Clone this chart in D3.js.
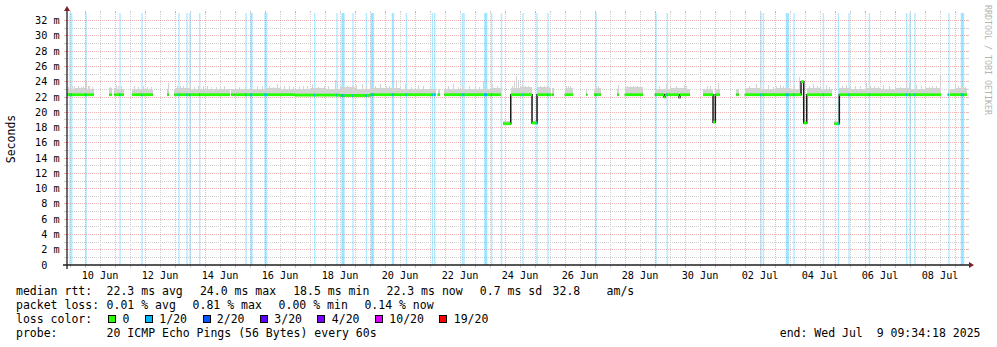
<!DOCTYPE html>
<html><head><meta charset="utf-8">
<script src="https://cdn.jsdelivr.net/npm/d3@7/dist/d3.min.js"></script>
<style>
body{margin:0;background:#fff}
svg{display:block}
text{font-family:"DejaVu Sans Mono",monospace;white-space:pre}
</style></head><body>
<svg id="chart" width="997" height="347"></svg>
<script>
// ---------------- DATA ----------------
const START = "2025-06-09 09:34:18";
const END = "2025-07-09 09:34:18";
const yTickValues = [0,2,4,6,8,10,12,14,16,18,20,22,24,26,28,30,32];
const yUnit = "m";
const xTickLabels = ["10 Jun","12 Jun","14 Jun","16 Jun","18 Jun","20 Jun","22 Jun","24 Jun","26 Jun","28 Jun","30 Jun","02 Jul","04 Jul","06 Jul","08 Jul"];

// median rtt runs: [start, end, median ms]
const medianRuns = [
  ["2025-06-09 09:34","2025-06-10 07:00",22.3],
  ["2025-06-10 19:30","2025-06-10 21:36",22.3],
  ["2025-06-10 23:26","2025-06-11 07:00",22.3],
  ["2025-06-11 13:36","2025-06-12 06:10",22.3],
  ["2025-06-12 17:36","2025-06-12 19:00",22.3],
  ["2025-06-12 23:26","2025-06-14 19:45",22.3],
  ["2025-06-14 21:02","2025-06-14 22:58",22.3],
  ["2025-06-14 23:26","2025-06-17 00:00",22.3],
  ["2025-06-17 00:00","2025-06-18 12:00",22.25],
  ["2025-06-18 12:00","2025-06-19 12:00",22.2],
  ["2025-06-19 12:00","2025-06-21 16:34",22.3],
  ["2025-06-21 18:10","2025-06-21 20:00",22.3],
  ["2025-06-21 23:26","2025-06-23 20:34",22.3],
  ["2025-06-23 22:38","2025-06-24 04:34",18.5],
  ["2025-06-24 04:34","2025-06-24 21:36",22.3],
  ["2025-06-24 21:36","2025-06-25 01:36",18.6],
  ["2025-06-25 01:36","2025-06-25 13:02",22.3],
  ["2025-06-25 13:50","2025-06-25 14:58",22.3],
  ["2025-06-25 23:46","2025-06-26 06:24",22.3],
  ["2025-06-26 17:02","2025-06-26 17:50",22.3],
  ["2025-06-26 23:12","2025-06-27 04:34",22.3],
  ["2025-06-27 17:36","2025-06-27 18:58",22.3],
  ["2025-06-27 23:46","2025-06-28 14:24",22.3],
  ["2025-06-28 23:46","2025-06-29 07:12",22.3],
  ["2025-06-29 07:12","2025-06-29 08:00",22.0],
  ["2025-06-29 08:00","2025-06-29 19:12",22.3],
  ["2025-06-29 19:12","2025-06-29 20:00",21.95],
  ["2025-06-29 20:00","2025-06-30 03:46",22.3],
  ["2025-06-30 14:24","2025-06-30 22:24",22.3],
  ["2025-06-30 22:24","2025-07-01 00:14",18.7],
  ["2025-07-01 00:14","2025-07-01 03:46",22.3],
  ["2025-07-01 17:02","2025-07-01 18:58",22.3],
  ["2025-07-01 23:46","2025-07-03 20:48",22.3],
  ["2025-07-03 20:48","2025-07-03 22:58",24.0],
  ["2025-07-03 22:58","2025-07-04 01:22",18.6],
  ["2025-07-04 01:22","2025-07-04 21:36",22.3],
  ["2025-07-04 23:26","2025-07-05 03:26",18.5],
  ["2025-07-05 03:26","2025-07-08 12:48",22.3],
  ["2025-07-08 18:10","2025-07-08 18:58",22.3],
  ["2025-07-08 20:00","2025-07-09 09:34",22.3]
];

// upper edge of the smoke band (step values): [from time, top ms]
const smokeSteps = [
  ["2025-06-09 09:34",23.1],["2025-06-09 16:00",23.2],["2025-06-10 00:00",23.0],["2025-06-10 12:00",23.2],
  ["2025-06-11 00:00",23.1],["2025-06-11 12:00",23.0],["2025-06-12 00:00",23.1],["2025-06-12 12:00",23.0],
  ["2025-06-13 00:00",23.2],["2025-06-13 12:00",23.1],["2025-06-14 00:00",23.0],["2025-06-14 12:00",23.1],
  ["2025-06-15 00:00",23.1],["2025-06-15 12:00",23.0],["2025-06-16 00:00",23.2],["2025-06-16 12:00",23.1],
  ["2025-06-17 00:00",23.0],["2025-06-17 12:00",23.2],["2025-06-18 00:00",23.1],["2025-06-18 12:00",23.3],
  ["2025-06-19 00:00",23.1],["2025-06-19 12:00",23.2],["2025-06-20 00:00",23.2],["2025-06-20 12:00",23.1],
  ["2025-06-21 00:00",23.0],["2025-06-21 12:00",23.1],["2025-06-22 00:00",23.0],["2025-06-22 12:00",23.1],
  ["2025-06-23 00:00",23.1],["2025-06-23 12:00",23.2],["2025-06-23 22:00",18.8],["2025-06-24 04:34",23.2],
  ["2025-06-24 12:00",23.3],["2025-06-24 21:36",18.9],["2025-06-25 01:36",23.3],["2025-06-25 12:00",23.2],
  ["2025-06-26 00:00",23.2],["2025-06-26 12:00",23.1],["2025-06-27 00:00",23.2],["2025-06-27 12:00",23.1],
  ["2025-06-28 00:00",23.3],["2025-06-28 12:00",23.3],["2025-06-29 00:00",23.1],["2025-06-29 12:00",23.2],
  ["2025-06-30 00:00",23.0],["2025-06-30 12:00",23.1],["2025-06-30 22:24",18.9],["2025-07-01 00:14",23.1],
  ["2025-07-01 12:00",23.0],["2025-07-02 00:00",23.2],["2025-07-02 12:00",23.1],["2025-07-03 00:00",23.2],
  ["2025-07-03 12:00",23.1],["2025-07-03 22:58",18.9],["2025-07-04 01:22",23.2],["2025-07-04 12:00",23.1],
  ["2025-07-04 23:00",18.8],["2025-07-05 03:26",23.2],["2025-07-05 12:00",23.1],["2025-07-06 00:00",23.2],
  ["2025-07-06 12:00",23.1],["2025-07-07 00:00",23.2],["2025-07-07 12:00",23.1],["2025-07-08 00:00",23.2],
  ["2025-07-08 12:00",23.1],["2025-07-09 00:00",23.2]
];

// single-sample smoke peaks: [time, top ms]
const smokeSpikes = [
  ["2025-06-09 10:24",23.3],["2025-06-09 13:36",23.5],["2025-06-09 15:12",23.4],["2025-06-09 18:24",23.4],
  ["2025-06-09 20:48",23.3],["2025-06-09 22:24",23.5],["2025-06-10 00:48",23.9],["2025-06-10 02:24",23.4],
  ["2025-06-10 03:12",23.5],["2025-06-10 05:36",23.3],["2025-06-10 20:00",23.3],["2025-06-11 00:48",23.6],
  ["2025-06-11 02:24",23.4],["2025-06-11 04:48",23.4],["2025-06-11 15:12",23.4],["2025-06-11 18:24",23.3],
  ["2025-06-11 22:24",23.4],["2025-06-12 01:36",23.3],["2025-06-12 04:48",23.3],["2025-06-12 18:24",23.8],
  ["2025-06-13 01:36",23.5],["2025-06-13 04:00",23.4],["2025-06-13 06:24",23.4],["2025-06-13 12:00",23.7],
  ["2025-06-13 15:12",23.3],["2025-06-13 18:24",23.5],["2025-06-13 22:24",23.4],["2025-06-14 01:36",23.5],
  ["2025-06-14 04:48",23.3],["2025-06-14 08:48",23.3],["2025-06-14 12:00",23.4],["2025-06-14 15:12",23.4],
  ["2025-06-15 03:12",23.3],["2025-06-15 08:00",23.3],["2025-06-15 12:48",23.4],["2025-06-15 17:36",23.4],
  ["2025-06-15 21:36",23.5],["2025-06-16 03:12",23.5],["2025-06-16 06:24",23.3],["2025-06-16 09:36",23.7],
  ["2025-06-16 12:00",23.5],["2025-06-16 15:12",23.4],["2025-06-16 19:12",23.5],["2025-06-16 22:24",23.3],
  ["2025-06-17 03:12",23.3],["2025-06-17 06:24",23.4],["2025-06-17 09:36",23.5],["2025-06-17 13:36",23.7],
  ["2025-06-17 18:24",23.3],["2025-06-17 23:12",23.4],["2025-06-18 02:24",23.4],["2025-06-18 08:00",24.2],
  ["2025-06-18 09:36",24.0],["2025-06-18 14:24",23.7],["2025-06-18 17:36",23.4],["2025-06-18 21:36",23.5],
  ["2025-06-19 00:48",23.6],["2025-06-19 05:36",23.7],["2025-06-19 08:48",23.4],["2025-06-19 12:00",24.1],
  ["2025-06-19 16:00",23.4],["2025-06-19 20:00",23.7],["2025-06-20 00:48",23.4],["2025-06-20 03:12",23.5],
  ["2025-06-20 06:24",24.4],["2025-06-20 08:48",24.2],["2025-06-20 12:00",23.4],["2025-06-20 16:00",23.7],
  ["2025-06-20 20:48",23.3],["2025-06-21 02:24",23.6],["2025-06-21 06:24",23.4],["2025-06-21 12:00",23.5],
  ["2025-06-22 02:24",23.4],["2025-06-22 06:24",23.7],["2025-06-22 10:24",23.3],["2025-06-22 13:36",23.5],
  ["2025-06-22 19:12",23.5],["2025-06-23 00:00",23.4],["2025-06-23 03:12",23.3],["2025-06-23 06:24",24.1],
  ["2025-06-23 13:36",23.7],["2025-06-23 17:36",23.4],["2025-06-24 05:36",23.5],["2025-06-24 07:12",24.0],
  ["2025-06-24 08:48",24.8],["2025-06-24 10:24",24.2],["2025-06-24 13:36",23.6],["2025-06-24 16:00",23.5],
  ["2025-06-24 18:24",23.4],["2025-06-25 04:00",23.4],["2025-06-25 07:12",23.5],["2025-06-25 09:36",23.6],
  ["2025-06-26 00:48",23.5],["2025-06-26 02:24",23.4],["2025-06-26 04:00",23.4],["2025-06-27 00:48",23.3],
  ["2025-06-27 02:24",23.5],["2025-06-27 18:24",23.6],["2025-06-28 01:36",23.4],["2025-06-28 04:00",23.5],
  ["2025-06-28 06:24",23.5],["2025-06-28 09:36",23.5],["2025-06-28 12:00",23.4],["2025-06-29 03:12",23.4],
  ["2025-06-29 08:48",23.7],["2025-06-29 12:00",23.3],["2025-06-29 16:48",23.5],["2025-06-29 23:12",23.6],
  ["2025-06-30 00:48",23.4],["2025-06-30 17:36",23.4],["2025-06-30 20:00",23.5],["2025-07-01 02:24",23.8],
  ["2025-07-02 03:12",23.4],["2025-07-02 08:48",23.7],["2025-07-02 12:00",23.5],["2025-07-02 18:24",23.6],
  ["2025-07-02 22:24",23.3],["2025-07-03 00:48",23.5],["2025-07-03 04:00",23.6],["2025-07-03 06:24",23.5],
  ["2025-07-03 10:24",23.4],["2025-07-03 15:12",23.4],["2025-07-03 19:12",24.6],["2025-07-04 03:12",23.4],
  ["2025-07-04 06:24",23.7],["2025-07-04 09:36",23.5],["2025-07-04 12:00",23.4],["2025-07-04 16:48",23.6],
  ["2025-07-04 19:12",23.3],["2025-07-05 05:36",23.4],["2025-07-05 08:48",23.6],["2025-07-05 12:00",23.3],
  ["2025-07-05 16:00",23.4],["2025-07-05 20:00",23.5],["2025-07-06 00:48",23.8],["2025-07-06 04:00",23.4],
  ["2025-07-06 07:12",23.4],["2025-07-06 10:24",23.3],["2025-07-06 14:24",23.6],["2025-07-06 19:12",23.5],
  ["2025-07-07 00:00",23.4],["2025-07-07 04:00",23.3],["2025-07-07 08:48",23.9],["2025-07-07 11:12",23.8],
  ["2025-07-07 16:48",23.6],["2025-07-07 20:48",23.4],["2025-07-08 00:00",23.4],["2025-07-08 03:12",23.3],
  ["2025-07-08 05:36",23.5],["2025-07-08 08:48",23.5],["2025-07-08 12:00",25.0],["2025-07-09 00:00",23.7],
  ["2025-07-09 02:24",23.4],["2025-07-09 05:36",23.5],["2025-07-09 08:00",23.3]
];

// samples with 1/20 packet loss
const lossSamples = [
  "2025-06-09 11:26","2025-06-09 12:48","2025-06-10 00:14","2025-06-11 03:26","2025-06-11 21:02",
  "2025-06-13 02:38","2025-06-13 09:02","2025-06-13 11:26","2025-06-13 19:12","2025-06-15 08:14",
  "2025-06-15 12:14","2025-06-15 13:02","2025-06-15 23:26","2025-06-16 00:48","2025-06-17 15:12",
  "2025-06-18 09:02","2025-06-18 13:02","2025-06-18 13:50","2025-06-18 14:38","2025-06-18 21:50",
  "2025-06-19 08:34","2025-06-19 12:34","2025-06-19 13:22","2025-06-19 14:10","2025-06-20 05:22",
  "2025-06-20 06:10","2025-06-20 16:34","2025-06-21 13:22","2025-06-21 15:12","2025-06-22 13:22",
  "2025-06-22 14:38","2025-06-23 07:12","2025-06-23 08:00","2025-06-23 08:48","2025-06-23 12:48",
  "2025-06-23 20:34","2025-06-24 13:50","2025-06-25 01:02","2025-06-25 09:50","2025-06-27 00:14",
  "2025-06-29 00:14","2025-06-29 09:12","2025-07-02 12:14","2025-07-02 14:10","2025-07-03 08:34",
  "2025-07-03 09:22","2025-07-03 10:10","2025-07-03 14:38","2025-07-04 14:10","2025-07-05 02:10",
  "2025-07-05 10:38","2025-07-06 02:58","2025-07-07 08:48","2025-07-07 11:26","2025-07-07 15:26",
  "2025-07-08 18:38","2025-07-09 04:34","2025-07-09 05:22","2025-07-09 06:10"
];

const yTitle = "Seconds";
const rttLabel = "median rtt:";
const rttStats = ["22.3 ms avg","24.0 ms max","18.5 ms min","22.3 ms now","0.7 ms sd","32.8","am/s"];
const lossLabel = "packet loss:";
const lossStats = ["0.01 % avg","0.81 % max","0.00 % min","0.14 % now"];
const colorLabel = "loss color:";
const lossLevels = ["0","1/20","2/20","3/20","4/20","10/20","19/20"];
const lossColors = ["#26ff00","#00b8ff","#0059ff","#5e00ff","#7e00ff","#dd00ff","#ff0000"];
const probeLabel = "probe:";
const probeText = "20 ICMP Echo Pings (56 Bytes) every 60s";
const watermark = "RRDTOOL / TOBI OETIKER";

// ---------------- DRAW ----------------
const parseT = d3.timeParse("%Y-%m-%d %H:%M");
const parseF = d3.timeParse("%Y-%m-%d %H:%M:%S");
const t0 = parseF(START), t1 = parseF(END);
const STEP = 48 * 60 * 1000;

const X0 = 67, X1 = 967, Y0 = 265, YT = 13;
const x = d3.scaleTime().domain([t0, t1]).range([X0, X1]);
const y = d3.scaleLinear().domain([0, 33]).range([Y0, YT]);

const svg = d3.select("#chart");
svg.append("rect").attr("width", 997).attr("height", 347).attr("fill", "#fff");

const gridMinor = "#cfcfcf", gridMajor = "rgba(222,79,79,0.42)";
const g = svg.append("g").attr("shape-rendering", "crispEdges");
const px = v => Math.floor(v) + 0.5;

const noons = d3.timeHour.range(t0, t1).filter(d => d.getHours() === 12);
const mids = d3.timeDay.range(d3.timeDay.ceil(t0), t1);
function vline(t, col) {
  const xx = px(x(t));
  g.append("line").attr("x1", xx).attr("x2", xx).attr("y1", YT - 1).attr("y2", Y0 + 1)
    .attr("stroke", col).attr("stroke-dasharray", "1,1");
  g.append("line").attr("x1", xx).attr("x2", xx).attr("y1", Y0).attr("y2", Y0 + 3).attr("stroke", col);
  g.append("line").attr("x1", xx).attr("x2", xx).attr("y1", YT - 2).attr("y2", YT).attr("stroke", col);
}
function hline(v, col) {
  const yy = px(y(v));
  g.append("line").attr("x1", X0 - 1).attr("x2", X1 + 1).attr("y1", yy).attr("y2", yy)
    .attr("stroke", col).attr("stroke-dasharray", "1,1");
  g.append("line").attr("x1", X0 - 3).attr("x2", X0).attr("y1", yy).attr("y2", yy).attr("stroke", col);
  g.append("line").attr("x1", X1).attr("x2", X1 + 2).attr("y1", yy).attr("y2", yy).attr("stroke", col);
}
noons.forEach(t => vline(t, gridMinor));
d3.range(1, 33, 2).forEach(v => hline(v, gridMinor));
mids.forEach(t => vline(t, gridMajor));
yTickValues.filter(v => v > 0).forEach(v => hline(v, gridMajor));

// data prep
const runs = medianRuns.map(r => ({s: +parseT(r[0]), e: +parseT(r[1]), v: r[2]}))
  .map(r => ({s: Math.max(r.s, +t0), e: Math.min(r.e, +t1), v: r.v}));
const runAt = t => runs.find(r => t >= r.s && t < r.e);
const steps = smokeSteps.map(d => ({t: +parseT(d[0]), v: d[1]}));
const smokeAt = t => { let v = null; steps.forEach(s => { if (s.t <= t) v = s.v; }); return v; };

// loss bars
const losses = lossSamples.map(s => +parseT(s));
const lg = svg.append("g").attr("fill", "rgba(0,184,255,0.3)");
losses.forEach(t => {
  lg.append("rect").attr("x", x(t)).attr("y", YT).attr("width", Math.max(1.4, x(t + STEP) - x(t)))
    .attr("height", Y0 - YT);
});

// smoke, one column per pixel
const sg = svg.append("g").attr("fill", "#d3d3d3").attr("shape-rendering", "crispEdges");
for (let c = X0; c < X1; c++) {
  const tm = +x.invert(c + 0.5);
  const r = runAt(tm); if (!r) continue;
  const top = smokeAt(tm); if (top == null || top <= r.v) continue;
  sg.append("rect").attr("x", c).attr("width", 1)
    .attr("y", y(top)).attr("height", y(r.v) - y(top));
}
smokeSpikes.forEach(d => {
  const t = +parseT(d[0]); const r = runAt(t); if (!r) return;
  sg.append("rect").attr("x", Math.floor(x(t))).attr("width", 1)
    .attr("y", y(d[1])).attr("height", y(r.v) - y(d[1]));
});

// black median line
const pts = [];
runs.forEach((r, i) => {
  pts.push([r.s, r.v], [r.e, r.v]);
  const n = runs[i + 1];
  if (n && n.s !== r.e) pts.push(null);
});
svg.append("path").attr("d", d3.line().defined(d => d).x(d => x(d[0])).y(d => y(d[1]))(pts))
  .attr("fill", "none").attr("stroke", "#1a1a1a").attr("stroke-width", 1.5);

// loss-coloured median band
const bg = svg.append("g");
runs.forEach(r => {
  bg.append("rect").attr("x", x(r.s)).attr("width", x(r.e) - x(r.s))
    .attr("y", y(r.v) - 1.4).attr("height", 2.8).attr("fill", lossColors[0]);
});
losses.forEach(t => {
  const r = runAt(t); if (!r) return;
  bg.append("rect").attr("x", x(t)).attr("width", Math.max(1, x(t + STEP) - x(t)))
    .attr("y", y(r.v) - 1.4).attr("height", 2.8).attr("fill", lossColors[1]);
});

// axes
const axisCol = "#1f1f1f", arrowCol = "#7f1f1f";
svg.append("line").attr("x1", X0 - 4).attr("x2", X1 + 4).attr("y1", Y0).attr("y2", Y0)
  .attr("stroke", axisCol).attr("stroke-width", 1.3);
svg.append("line").attr("x1", X0).attr("x2", X0).attr("y1", Y0 + 4).attr("y2", YT - 4)
  .attr("stroke", axisCol).attr("stroke-width", 1.3);
svg.append("path").attr("d", `M${X1 + 2},${Y0 - 3}L${X1 + 2},${Y0 + 3}L${X1 + 7},${Y0}Z`).attr("fill", arrowCol);
svg.append("path").attr("d", `M${X0 - 3},${YT - 2}L${X0 + 3},${YT - 2}L${X0},${YT - 7}Z`).attr("fill", arrowCol);

// y labels
const axisFont = "10.2px";
const yl = svg.append("g").attr("font-size", axisFont).attr("fill", "#000");
yTickValues.forEach(v => {
  const yy = Math.floor(y(v)) + 3.9;
  yl.append("text").attr("x", 47.4).attr("y", yy).attr("text-anchor", "end").text(String(v));
  if (v > 0) yl.append("text").attr("x", 53.5).attr("y", yy).text(yUnit);
});
// x labels
const xl = svg.append("g").attr("font-size", axisFont).attr("fill", "#000").attr("text-anchor", "middle");
const parseLab = d3.timeParse("%d %b %Y");
xTickLabels.forEach(l => {
  const d = d3.timeHour.offset(parseLab(l + " 2025"), 12);
  xl.append("text").attr("x", x(d)).attr("y", 279).text(l);
});

// titles
svg.append("text").attr("transform", `translate(11,${(Y0 + YT) / 2}) rotate(-90)`)
  .attr("text-anchor", "middle").attr("dominant-baseline", "central")
  .attr("font-size", "11.5px").attr("fill", "#000").text(yTitle);
svg.append("text").attr("transform", `translate(988,60) rotate(90)`)
  .attr("text-anchor", "middle").attr("dominant-baseline", "central")
  .attr("font-size", "8.3px").attr("fill", "#b4b4b4").text(watermark);

// legend
const LF = 11.5, CW = LF * 0.602;
const leg = svg.append("g").attr("font-size", LF + "px").attr("fill", "#000");
const rows = [295, 309, 323, 337];
leg.append("text").attr("x", 16).attr("y", rows[0]).text(rttLabel);
const rttX = [106.6, 199.9, 293.2, 386.5, 479.8, 552.6, 606.6];
rttStats.forEach((s, i) => leg.append("text").attr("x", rttX[i]).attr("y", rows[0]).text(s));
leg.append("text").attr("x", 16).attr("y", rows[1]).text(lossLabel);
const lossX = [106.6, 192.6, 278.6, 364.4];
lossStats.forEach((s, i) => leg.append("text").attr("x", lossX[i]).attr("y", rows[1]).text(s));
leg.append("text").attr("x", 16).attr("y", rows[2]).text(colorLabel);
let bx = 108.3;
lossLevels.forEach((l, i) => {
  leg.append("rect").attr("x", Math.round(bx) + 0.5).attr("y", rows[2] - 7.5).attr("width", 7).attr("height", 7)
    .attr("fill", lossColors[i]).attr("stroke", "#000").attr("stroke-width", 1);
  const lx = bx + 14.3;
  leg.append("text").attr("x", lx).attr("y", rows[2]).text(l);
  bx = lx + l.length * CW + 15.5;
});
leg.append("text").attr("x", 16).attr("y", rows[3]).text(probeLabel);
leg.append("text").attr("x", 106.6).attr("y", rows[3]).text(probeText);
leg.append("text").attr("x", 980.5).attr("y", rows[3]).attr("text-anchor", "end")
  .text("end: " + d3.timeFormat("%a %b %e %H:%M:%S %Y")(t1));
</script>
</body></html>
